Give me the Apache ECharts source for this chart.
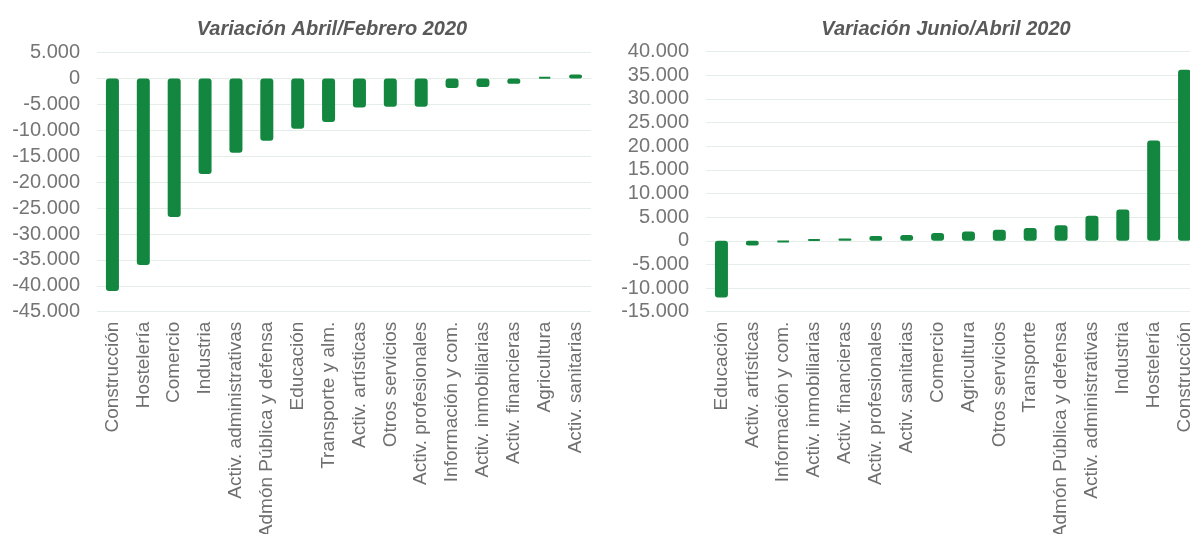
<!DOCTYPE html>
<html>
<head>
<meta charset="utf-8">
<title>Variación afiliados</title>
<script src="https://cdn.jsdelivr.net/npm/echarts@6/dist/echarts.min.js"></script>
<style>
  html, body { margin: 0; padding: 0; background: #fff; }
  #chart { width: 1190px; height: 534px; }
</style>
</head>
<body>
<div id="chart"></div>
<script>
// Variación Abril/Febrero 2020
var catsAbrFeb = ['Construcción', 'Hostelería', 'Comercio', 'Industria', 'Activ. administrativas',
  'Admón Pública y defensa', 'Educación', 'Transporte y alm.', 'Activ. artísticas', 'Otros servicios',
  'Activ. profesionales', 'Información y com.', 'Activ. inmobiliarias', 'Activ. financieras',
  'Agricultura', 'Activ. sanitarias'];
var valsAbrFeb = [-41000, -36000, -26700, -18400, -14300, -12000, -9700, -8400, -5600, -5450,
  -5450, -1800, -1600, -1000, 350, 800];

// Variación Junio/Abril 2020
var catsJunAbr = ['Educación', 'Activ. artísticas', 'Información y com.', 'Activ. inmobiliarias',
  'Activ. financieras', 'Activ. profesionales', 'Activ. sanitarias', 'Comercio', 'Agricultura',
  'Otros servicios', 'Transporte', 'Admón Pública y defensa', 'Activ. administrativas',
  'Industria', 'Hostelería', 'Construcción'];
var valsJunAbr = [-12000, -1000, -300, 300, 500, 1000, 1250, 1650, 1950, 2350, 2700, 3300,
  5300, 6600, 21200, 36200];

var green = '#13873f';
var font = "'Liberation Sans', Arial, sans-serif";

// 5000 -> "5.000"
function fmt(v) {
  var s = String(Math.abs(v)).replace(/\B(?=(\d{3})+(?!\d))/g, '.');
  return (v < 0 ? '-' : '') + s;
}

function xAxisFor(idx, cats) {
  return {
    type: 'category',
    gridIndex: idx,
    data: cats,
    position: 'bottom',
    axisLine: { show: false, onZero: false },
    axisTick: { show: false },
    axisLabel: {
      interval: 0,
      rotate: 90,
      margin: 10,
      color: '#6f6f6f',
      fontSize: 19,
      fontFamily: font
    }
  };
}

function yAxisFor(idx, min, max) {
  return {
    type: 'value',
    gridIndex: idx,
    min: min,
    max: max,
    interval: 5000,
    axisLine: { show: false },
    axisTick: { show: false },
    splitLine: { lineStyle: { color: '#e4ede7', width: 1 } },
    axisLabel: {
      margin: 17,
      color: '#757575',
      fontSize: 20,
      fontFamily: font,
      formatter: fmt
    }
  };
}

function seriesFor(idx, vals) {
  return {
    type: 'bar',
    xAxisIndex: idx,
    yAxisIndex: idx,
    data: vals,
    barWidth: 13,
    itemStyle: {
      color: green,
      borderColor: green,
      borderWidth: 2,
      borderRadius: 2
    },
    silent: true
  };
}

var chart = echarts.init(document.getElementById('chart'));

var option = {
  animation: false,
  backgroundColor: '#fff',
  title: [
    {
      text: 'Variación Abril/Febrero 2020',
      left: 327, top: 14, textAlign: 'center',
      textStyle: { color: '#595959', fontSize: 20, fontWeight: 'bold', fontStyle: 'italic', fontFamily: font }
    },
    {
      text: 'Variación Junio/Abril 2020',
      left: 941, top: 14, textAlign: 'center',
      textStyle: { color: '#595959', fontSize: 20, fontWeight: 'bold', fontStyle: 'italic', fontFamily: font }
    }
  ],
  grid: [
    { left: 97, top: 52.7, width: 494, height: 259, outerBoundsMode: 'none' },
    { left: 706, top: 51.7, width: 494, height: 260, outerBoundsMode: 'none' }
  ],
  xAxis: [xAxisFor(0, catsAbrFeb), xAxisFor(1, catsJunAbr)],
  yAxis: [yAxisFor(0, -45000, 5000), yAxisFor(1, -15000, 40000)],
  series: [seriesFor(0, valsAbrFeb), seriesFor(1, valsJunAbr)]
};

chart.setOption(option);

window.onresize = function() {
  chart.resize();
};
</script>
</body>
</html>
